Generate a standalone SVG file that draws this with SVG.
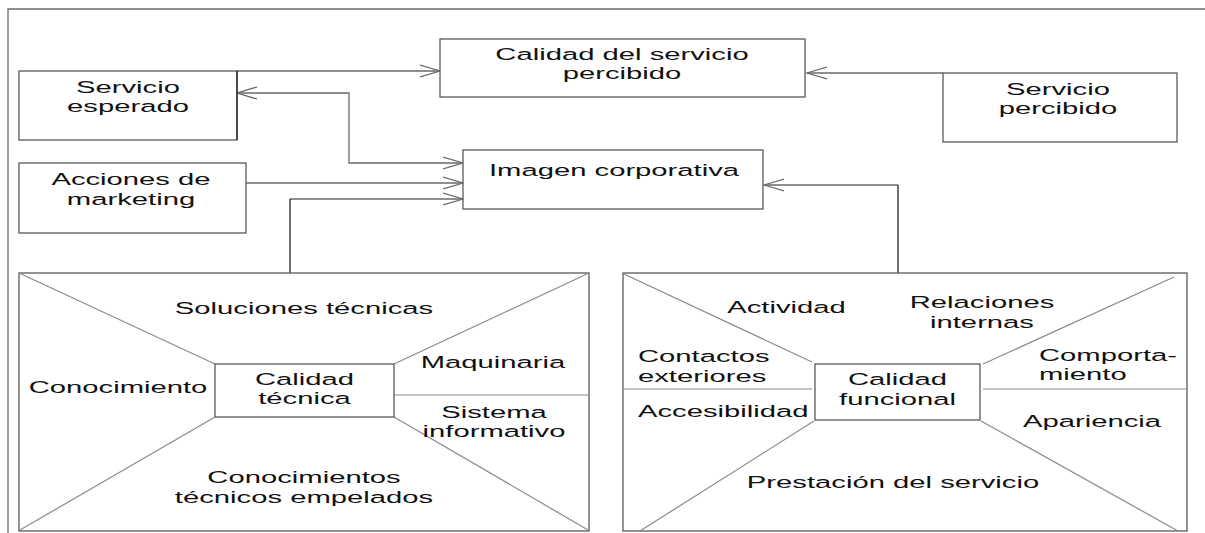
<svg xmlns="http://www.w3.org/2000/svg" width="1205" height="533" viewBox="0 0 1205 533">
<defs>
<style>
.box{fill:#fff;stroke:#5a5a5a;stroke-width:1.3}
.frame{fill:none;stroke:#6a6a6a;stroke-width:1.3}
.div{fill:none;stroke:#8a8a8a;stroke-width:1.2}
.con{fill:none;stroke:#6a6a6a;stroke-width:1.3}
.conv{fill:none;stroke:#222;stroke-width:1.3}
text{font-family:"Liberation Sans",Arial,sans-serif;font-size:17.4px;fill:#111}
.m{text-anchor:middle}
.s{text-anchor:start}
</style>
<marker id="ah" markerUnits="userSpaceOnUse" markerWidth="24" markerHeight="16" refX="20" refY="7" orient="auto-start-reverse">
<path d="M0,1 L20,7 L0,13" fill="none" stroke="#6a6a6a" stroke-width="1.3"/>
</marker>
</defs>
<rect width="1205" height="533" fill="#fff"/>
<path class="frame" d="M8,533 V9 H1205"/>

<g id="connectors">
<path class="con" d="M237,71 H440" marker-end="url(#ah)"/>
<path class="con" d="M943,73 H807" marker-end="url(#ah)"/>
<path class="con" d="M237,93 H349 V163 H463" marker-start="url(#ah)" marker-end="url(#ah)"/>
<path class="con" d="M246,183 H463" marker-end="url(#ah)"/>
<path class="con" d="M290,199 H463" marker-end="url(#ah)"/>
<path class="conv" d="M290,273 V199"/>
<path class="con" d="M898,185 H764" marker-end="url(#ah)"/>
<path class="conv" d="M898,364 V185"/>
</g>

<g id="calidad-servicio">
<rect class="box" x="440" y="39" width="365" height="58"/>
<text class="m" transform="matrix(1.68 0 0 1 622 60)">Calidad del servicio</text>
<text class="m" transform="matrix(1.68 0 0 1 622 79)">percibido</text>
</g>

<g id="servicio-esperado">
<rect class="box" x="19" y="71" width="218" height="69"/>
<path class="conv" d="M237,71 V140"/>
<text class="m" transform="matrix(1.68 0 0 1 128 93)">Servicio</text>
<text class="m" transform="matrix(1.68 0 0 1 128 111.5)">esperado</text>
</g>

<g id="acciones-marketing">
<rect class="box" x="19" y="163" width="227" height="70"/>
<text class="m" transform="matrix(1.68 0 0 1 131 185)">Acciones de</text>
<text class="m" transform="matrix(1.68 0 0 1 131 204.5)">marketing</text>
</g>

<g id="imagen-corporativa">
<rect class="box" x="463" y="150" width="300" height="59"/>
<text class="m" transform="matrix(1.68 0 0 1 614 176)">Imagen corporativa</text>
</g>

<g id="servicio-percibido">
<rect class="box" x="943" y="73" width="234" height="69"/>
<text class="m" transform="matrix(1.68 0 0 1 1058 94.5)">Servicio</text>
<text class="m" transform="matrix(1.68 0 0 1 1058 114)">percibido</text>
</g>

<g id="calidad-tecnica-panel">
<rect class="box" x="19" y="273" width="570" height="258"/>
<path class="div" d="M19,273 L215,364 M587,274 L394,364 M20,530 L215,417 M588,530 L394,417 M394,395 H589"/>
<rect class="box" x="215" y="364" width="179" height="53"/>
<text class="m" transform="matrix(1.68 0 0 1 304 313.5)">Soluciones técnicas</text>
<text class="m" transform="matrix(1.68 0 0 1 118 392.5)">Conocimiento</text>
<text class="m" transform="matrix(1.68 0 0 1 304.5 384.5)">Calidad</text>
<text class="m" transform="matrix(1.68 0 0 1 304.5 403.5)">técnica</text>
<text class="m" transform="matrix(1.68 0 0 1 493 367.5)">Maquinaria</text>
<text class="m" transform="matrix(1.68 0 0 1 494 417.5)">Sistema</text>
<text class="m" transform="matrix(1.68 0 0 1 494 437)">informativo</text>
<text class="m" transform="matrix(1.68 0 0 1 304 482.5)">Conocimientos</text>
<text class="m" transform="matrix(1.68 0 0 1 304 502.5)">técnicos empelados</text>
</g>

<g id="calidad-funcional-panel">
<rect class="box" x="623" y="273" width="564" height="258"/>
<path class="div" d="M624,274 L812,362 M1174,277 L983,364 M814,421 L640,531 M981,421 L1178,531 M623,389 H812 M983,389 H1187"/>
<rect class="box" x="815" y="364" width="165" height="56"/>
<text class="m" transform="matrix(1.68 0 0 1 786.5 312.5)">Actividad</text>
<text class="m" transform="matrix(1.68 0 0 1 982 307.5)">Relaciones</text>
<text class="m" transform="matrix(1.68 0 0 1 982 327.5)">internas</text>
<text class="s" transform="matrix(1.68 0 0 1 638 361.5)">Contactos</text>
<text class="s" transform="matrix(1.68 0 0 1 638 381.5)">exteriores</text>
<text class="s" transform="matrix(1.68 0 0 1 638 416.5)">Accesibilidad</text>
<text class="m" transform="matrix(1.68 0 0 1 897.5 385)">Calidad</text>
<text class="m" transform="matrix(1.68 0 0 1 897.5 404.5)">funcional</text>
<text class="s" transform="matrix(1.68 0 0 1 1039 360.5)">Comporta-</text>
<text class="s" transform="matrix(1.68 0 0 1 1039 379.5)">miento</text>
<text class="m" transform="matrix(1.68 0 0 1 1092 426.5)">Apariencia</text>
<text class="m" transform="matrix(1.68 0 0 1 893 487.5)">Prestación del servicio</text>
</g>
</svg>
